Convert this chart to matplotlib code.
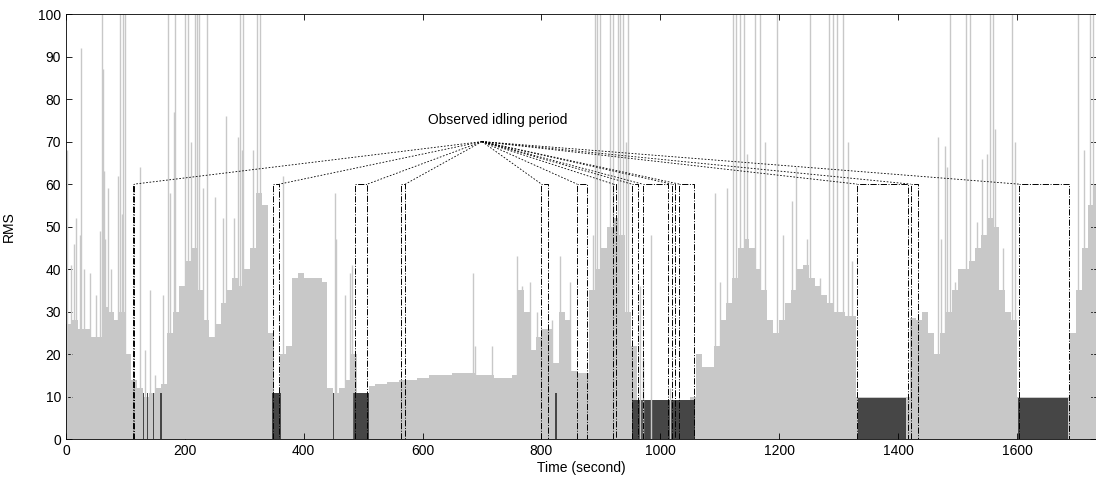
import numpy as np
import matplotlib
matplotlib.use('Agg')
import matplotlib.pyplot as plt

plt.rcParams['font.family'] = ['Liberation Sans', 'DejaVu Sans']

# base level of the RMS fill, one value per 10 s bin (0 .. 1730)
base_start = list(range(0, 1740, 10))
base_rms = [27, 28, 26, 26, 24, 24, 31, 30, 28, 30,    # 0-90
            20, 14, 12, 10, 11, 12, 13, 25, 30, 36,    # 100-190
            42, 45, 35, 28, 24, 27, 32, 35, 38, 36,    # 200-290
            40, 45, 58, 55, 25, 11, 20, 22, 38, 39,    # 300-390
            38, 38, 38, 37, 12, 11, 12, 14, 20, 10,    # 400-490
            10, 12.5, 13, 13, 13.5, 13.5, 14, 14, 14, 14.5,  # 500-590
            14.5, 15, 15, 15, 15, 15.5, 15.5, 15.5, 15.5, 15,  # 600-690
            15, 15, 14.5, 14.5, 14.5, 15, 35, 30, 21, 24,  # 700-790
            26, 26, 18, 30, 28, 16, 15.5, 15.5, 35, 40,  # 800-890
            45, 50, 52, 48, 30, 22, 9, 9, 9, 9,        # 900-990
            9, 9, 9, 9, 9, 10, 20, 17, 17, 22,         # 1000-1090
            28, 32, 38, 45, 47, 45, 40, 35, 28, 25,    # 1100-1190
            28, 32, 35, 40, 41, 38, 36, 34, 32, 30,    # 1200-1290
            30, 29, 29, 10, 10, 10, 10, 10, 10, 10,    # 1300-1390
            10, 10, 28.5, 28, 30, 25, 20, 25, 30, 35,  # 1400-1490
            40, 40, 42, 45, 48, 52, 50, 35, 30, 28,    # 1500-1590
            10, 10, 10, 10, 10, 10, 10, 10, 10, 25,    # 1600-1690
            35, 45, 55, 60]                            # 1700-1730

# single-second spikes above the fill (second, RMS)
spike_t = [1, 9, 13, 17, 23, 25, 30, 40, 50, 58, 60, 62, 64, 66, 70, 76,
           88, 91, 94, 96, 99, 124, 133, 141, 150, 164, 172, 175, 181, 183,
           200, 206, 211, 217, 220, 223, 231, 237, 251, 265, 270, 282, 290, 293,
           296, 298, 315, 321, 326, 365, 453, 455, 469, 478, 481,
           685, 688, 716, 758, 767, 781, 792, 817, 831, 848, 887, 890, 893, 899,
           915, 921, 929, 938, 943, 932, 946, 966, 971, 985, 1016,
           1092, 1100, 1112, 1123, 1128, 1134, 1140, 1145, 1159, 1168, 1176,
           1196, 1207, 1221, 1229, 1246, 1252, 1269, 1283, 1291, 1297, 1308,
           1316, 1322, 1468, 1473, 1479, 1482, 1487, 1496, 1515, 1521, 1532,
           1541, 1549, 1555, 1560, 1563, 1577, 1591, 1597, 1703, 1712, 1723, 1728]
spike_rms = [68, 41, 46, 52, 48, 92, 40, 39, 34, 49, 100, 87, 63, 47, 59, 40,
             62, 100, 53, 100, 100, 64, 21, 35, 15, 34, 100, 58, 77, 100,
             100, 100, 70, 100, 100, 100, 59, 100, 57, 52, 76, 52, 71, 100,
             68, 100, 68, 100, 100, 62, 58, 47, 34, 39, 41,
             39, 22, 22, 43, 36, 37, 30, 28, 43, 37, 48, 100, 100, 100,
             100, 100, 100, 100, 70, 100, 100, 36, 19, 48, 12,
             58, 37, 59, 100, 100, 100, 100, 67, 100, 100, 70,
             100, 48, 56, 64, 47, 100, 38, 100, 100, 100, 100,
             70, 42, 71, 47, 69, 64, 100, 37, 100, 100, 51,
             66, 67, 100, 100, 73, 45, 100, 70, 100, 68, 100, 100]

# detected idling (dark bars): start, end, level
idle_start = [130, 137, 147, 158, 347, 442, 450, 482, 775, 823, 952, 1333, 1602]
idle_end = [131, 138, 148, 162, 361, 443, 451, 509, 776, 826, 1058, 1414, 1686]
idle_rms = [11, 11, 11, 11, 11, 11, 11, 11, 7, 11, 9.3, 9.7, 9.7]

# observed idling periods (brackets)
obs_start = [112, 349, 487, 563, 800, 860, 921, 952, 970, 1019, 1032, 1331, 1421, 1603]
obs_end = [115, 359, 507, 571, 811, 877, 926, 963, 1013, 1025, 1057, 1417, 1434, 1687]

light = '#c8c8c8'
dark = '#464646'

fig = plt.figure(figsize=(10.96, 4.83), dpi=100)
ax = fig.add_axes([0.0602, 0.0905, 0.9398, 0.8805])

ax.bar(base_start, base_rms, width=10, align='edge', color=light, linewidth=0)
ax.vlines(spike_t, 0, spike_rms, color=light, linewidth=1.0)
idle_w = [e - s for s, e in zip(idle_start, idle_end)]
ax.bar(idle_start, idle_rms, width=idle_w, align='edge', color=dark, linewidth=0)

apex = (700, 70)
for s, e in zip(obs_start, obs_end):
    ax.plot([s, s, e, e], [0, 60, 60, 0], color='k', linestyle='-.', linewidth=0.7)
    tx = e if e < apex[0] else s
    ax.plot([apex[0], tx], [apex[1], 60], color='k', linestyle=(0, (2, 2)), linewidth=0.6)

ax.text(727, 75, 'Observed idling period', ha='center', va='center', fontsize=10)

ax.set_xlim(0, 1733)
ax.set_ylim(0, 100)
ax.set_xticks(range(0, 1700, 200))
ax.set_yticks(range(0, 101, 10))
ax.tick_params(direction='in', top=True, right=True, labelsize=10, length=4, width=0.6)
for sp in ax.spines.values():
    sp.set_linewidth(0.6)
ax.spines['right'].set_visible(False)
ax.set_xlabel('Time (second)', fontsize=10, labelpad=2)
ax.set_ylabel('RMS', fontsize=10, labelpad=16)

fig.savefig('out.png', dpi=100)
